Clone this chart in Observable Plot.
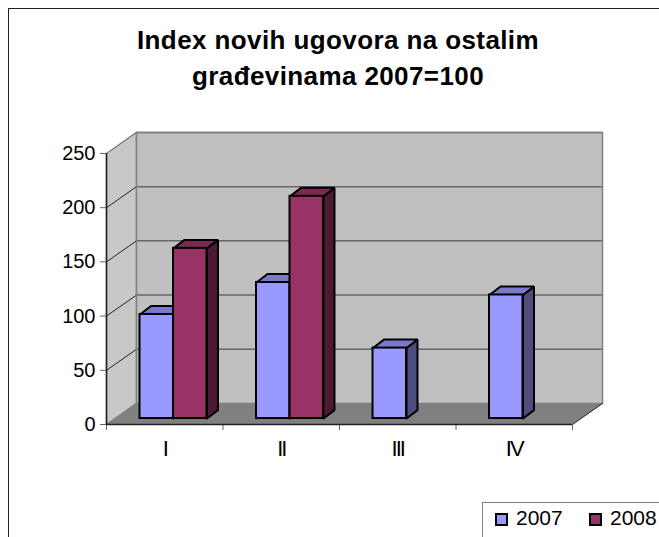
<!DOCTYPE html>
<html><head><meta charset="utf-8">
<script src="https://cdn.jsdelivr.net/npm/d3@7"></script>
<script src="https://cdn.jsdelivr.net/npm/@observablehq/plot@0.6"></script>
<style>
html,body{margin:0;padding:0;background:#fff;overflow:hidden}
#page{position:relative;width:659px;height:537px;overflow:hidden;font-family:"Liberation Sans",Arial,sans-serif;color:#000}
#page svg{position:absolute;left:0;top:0;background:transparent}
#frame{position:absolute;left:8px;top:8px;width:700px;height:600px;border:1px solid #222;box-sizing:border-box}
#title{position:absolute;left:8px;width:660px;top:22px;text-align:center;font-weight:bold;font-size:26px;line-height:36px;letter-spacing:.4px}
#legend{position:absolute;left:482px;top:502px;width:220px;height:60px;border:1px solid #808080;box-sizing:border-box;font-size:21px;line-height:21px}
.sw{position:absolute;top:10px;width:9px;height:9px;border:2px solid #000;box-sizing:content-box}
.lb{position:absolute;top:4px}
.cat text{letter-spacing:-2px}
</style></head><body>
<div id="page">
<div id="frame"></div>
<div id="plot"></div>
<div id="title">Index novih ugovora na ostalim<br>građevinama 2007=100</div>
<div id="legend">
<span class="sw" style="left:12px;background:#9999ff"></span><span class="lb" style="left:33px">2007</span>
<span class="sw" style="left:106px;background:#993366"></span><span class="lb" style="left:127px">2008</span>
</div>
</div>
<script>
const categories = ["I", "II", "III", "IV"];
const series2007 = [96, 125.5, 65, 114];
const series2008 = [157, 205, null, null];
const yTicks = [0, 50, 100, 150, 200, 250];

// Oblique-projection depths, in data units of the x and y scales
const wallX = 0.2575, wallY = 19.4;
const baseX = 0.0687, baseY = 5.5;
const barDX = 0.0944, barDY = 7.8;
const barW = 0.2875, n = categories.length, yMax = yTicks[yTicks.length - 1];

const poly = (id, pts) => pts.map(([x, y]) => ({id, x, y}));

function barTable(values, slot) {
  return values.map((v, i) => v == null ? null : {
    x1: i + baseX + 0.2189 + slot * barW,
    x2: i + baseX + 0.2189 + (slot + 1) * barW,
    y1: baseY, y2: v + baseY
  }).filter(Boolean);
}
const sideFaces = (bars) => bars.flatMap((b, i) => poly(i, [
  [b.x2, b.y1], [b.x2 + barDX, b.y1 + barDY], [b.x2 + barDX, b.y2 + barDY], [b.x2, b.y2], [b.x2, b.y1]]));
const topFaces = (bars) => bars.flatMap((b, i) => poly(i, [
  [b.x1, b.y2], [b.x1 + barDX, b.y2 + barDY], [b.x2 + barDX, b.y2 + barDY], [b.x2, b.y2], [b.x1, b.y2]]));

function barMarks(values, slot, front, topColor, sideColor) {
  const bars = barTable(values, slot);
  const face = {x: "x", y: "y", z: "id", stroke: "#000", strokeWidth: 2, strokeLinejoin: "miter"};
  return [
    Plot.line(sideFaces(bars), {...face, fill: sideColor}),
    Plot.line(topFaces(bars), {...face, fill: topColor}),
    Plot.rect(bars, {x1: "x1", x2: "x2", y1: "y1", y2: "y2", fill: front, stroke: "#000", strokeWidth: 2})
  ];
}

const backWall = poly("b", [[wallX, wallY], [n + wallX, wallY], [n + wallX, yMax + wallY], [wallX, yMax + wallY], [wallX, wallY]]);
const leftWall = poly("l", [[0, 0], [wallX, wallY], [wallX, yMax + wallY], [0, yMax], [0, 0]]);
const floorFace = poly("f", [[0, 0], [n, 0], [n + wallX, wallY], [wallX, wallY], [0, 0]]);
const gridBack = yTicks.slice(1).flatMap(v => poly(v, [[wallX, v + wallY], [n + wallX, v + wallY]]));
const gridLeft = yTicks.slice(1, -1).flatMap(v => poly(v, [[0, v], [wallX, v + wallY]]));

const chart = Plot.plot({
  width: 659, height: 537,
  marginLeft: 106, marginRight: 87, marginTop: 153, marginBottom: 113,
  style: {fontFamily: '"Liberation Sans",Arial,sans-serif', background: "transparent", overflow: "visible"},
  x: {type: "linear", domain: [0, n]},
  y: {type: "linear", domain: [0, yMax]},
  marks: [
    Plot.line(leftWall, {x: "x", y: "y", z: "id", fill: "#c8c8c8", stroke: "#808080", strokeWidth: 1.5}),
    Plot.line(backWall, {x: "x", y: "y", z: "id", fill: "#c0c0c0", stroke: "none"}),
    Plot.line(gridBack, {x: "x", y: "y", z: "id", stroke: "#666", strokeWidth: 1.5}),
    Plot.line(gridLeft, {x: "x", y: "y", z: "id", stroke: "#222", strokeWidth: 1}),
    Plot.line(floorFace, {x: "x", y: "y", z: "id", fill: "#808080", stroke: "none"}),
    Plot.line(backWall, {x: "x", y: "y", z: "id", stroke: "#808080", strokeWidth: 1.5}),
    Plot.line(poly("e", [[n, 0], [n + wallX, wallY]]), {x: "x", y: "y", z: "id", stroke: "#222", strokeWidth: 1}),
    ...barMarks(series2007, 0, "#9999ff", "#7a7acc", "#4d4d80"),
    ...barMarks(series2008, 1, "#993366", "#7a2952", "#4d1a33"),
    Plot.axisY({ticks: yTicks, tickSize: 6, tickPadding: 5, fontSize: 20, stroke: "#666", tickFormat: d3.format("d"), label: null}),
    Plot.axisX({ticks: d3.range(n + 1), tickSize: 6, tickFormat: () => "", stroke: "#666", label: null}),
    Plot.ruleX([0], {y1: 0, y2: yMax, stroke: "#222", strokeWidth: 1.5}),
    Plot.ruleY([0], {x1: 0, x2: n, stroke: "#222", strokeWidth: 1.5}),
    Plot.text(categories, {x: (d, i) => i + 0.5, y: 0, text: d => d, dy: 24, fontSize: 22, fill: "#000", className: "cat"})
  ]
});
document.getElementById("plot").append(chart);
</script>
</body></html>
